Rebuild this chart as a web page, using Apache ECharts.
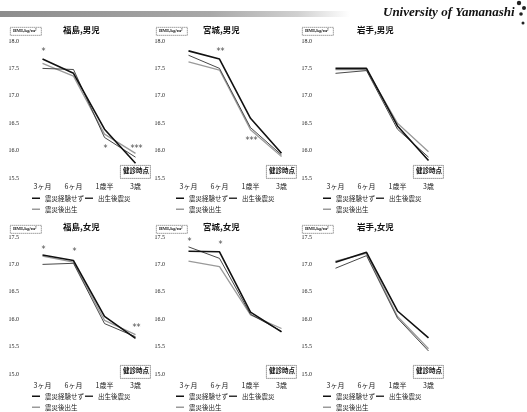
<!DOCTYPE html>
<html><head><meta charset="utf-8">
<script src="https://cdn.jsdelivr.net/npm/echarts@6/dist/echarts.min.js"></script>
<style>html,body{margin:0;padding:0;background:#fff}#c{width:527px;height:412px}</style>
</head><body><div id="c"></div>
<script>
// ---- data ----
const categories = ['3ヶ月', '6ヶ月', '1歳半', '3歳'];
const seriesNames = ['震災経験せず', '出生後震災', '震災後出生'];
const panelTitles = ['福島,男児', '宮城,男児', '岩手,男児', '福島,女児', '宮城,女児', '岩手,女児'];
const boysTicks = [15.5, 18.0];
const girlsTicks = [15.0, 17.5];

const fukushimaBoysNoQuake     = [17.67, 17.41, 16.39, 15.77];
const fukushimaBoysAfterBirth  = [17.50, 17.48, 16.24, 15.88];
const fukushimaBoysBornAfter   = [17.59, 17.36, 16.30, 15.95];

const miyagiBoysNoQuake        = [17.82, 17.67, 16.59, 15.95];
const miyagiBoysAfterBirth     = [17.74, 17.50, 16.42, 15.92];
const miyagiBoysBornAfter      = [17.62, 17.47, 16.38, 15.89];

const iwateBoysNoQuake         = [17.50, 17.50, 16.45, 15.82];
const iwateBoysAfterBirth      = [17.41, 17.46, 16.39, 15.88];
const iwateBoysBornAfter       = [17.48, 17.48, 16.50, 15.98];

const fukushimaGirlsNoQuake    = [17.17, 17.07, 16.05, 15.65];
const fukushimaGirlsAfterBirth = [17.00, 17.02, 15.92, 15.68];
const fukushimaGirlsBornAfter  = [17.15, 17.04, 15.98, 15.72];

const miyagiGirlsNoQuake       = [17.24, 17.23, 16.13, 15.77];
const miyagiGirlsAfterBirth    = [17.32, 17.11, 16.09, 15.78];
const miyagiGirlsBornAfter     = [17.06, 16.96, 16.08, 15.83];

const iwateGirlsNoQuake        = [17.04, 17.22, 16.15, 15.66];
const iwateGirlsAfterBirth     = [16.93, 17.16, 16.02, 15.42];
const iwateGirlsBornAfter      = [17.06, 17.20, 16.05, 15.46];

// significance marks: [category, value, text]
const fukushimaBoysSig  = [['3ヶ月', 17.84, '*'], ['1歳半', 16.07, '*'], ['3歳', 16.07, '***']];
const miyagiBoysSig     = [['6ヶ月', 17.84, '**'], ['1歳半', 16.21, '***']];
const iwateBoysSig      = [];
const fukushimaGirlsSig = [['3ヶ月', 17.30, '*'], ['6ヶ月', 17.26, '*'], ['3歳', 15.88, '**']];
const miyagiGirlsSig    = [['3ヶ月', 17.45, '*'], ['6ヶ月', 17.39, '*']];
const iwateGirlsSig     = [];

const panels = [
  [fukushimaBoysNoQuake, fukushimaBoysAfterBirth, fukushimaBoysBornAfter, fukushimaBoysSig],
  [miyagiBoysNoQuake, miyagiBoysAfterBirth, miyagiBoysBornAfter, miyagiBoysSig],
  [iwateBoysNoQuake, iwateBoysAfterBirth, iwateBoysBornAfter, iwateBoysSig],
  [fukushimaGirlsNoQuake, fukushimaGirlsAfterBirth, fukushimaGirlsBornAfter, fukushimaGirlsSig],
  [miyagiGirlsNoQuake, miyagiGirlsAfterBirth, miyagiGirlsBornAfter, miyagiGirlsSig],
  [iwateGirlsNoQuake, iwateGirlsAfterBirth, iwateGirlsBornAfter, iwateGirlsSig]
];

// ---- layout / style ----
const CJK = '"Noto Sans CJK JP", sans-serif';
const NUM = '"Liberation Serif", serif';
const colLeft = [27, 173, 320];
const boxLeft = [10, 156, 302];
const titleLeft = [63, 203, 357];
const kenLeft = [120, 266, 413];
const legLeft = [32, 176, 323];
const rowTop = [41, 237];
const rowBoxTop = [27, 225];
const rowTitleY = [31, 228];
const rowKenTop = [165, 365];
const rowLegTop = [195, 393];
const rowXMargin = [5, 8];
const lineStyles = [
  {color: '#111', width: 1.6},
  {color: '#333', width: 0.9},
  {color: '#9a9a9a', width: 1.3}
];

const grids = [], xAxes = [], yAxes = [], series = [], legends = [], graphics = [];

panels.forEach((p, i) => {
  const r = Math.floor(i / 3), c = i % 3;
  const ticks = r === 0 ? boysTicks : girlsTicks;
  grids.push({left: colLeft[c], top: rowTop[r], width: 124, height: 137});
  xAxes.push({
    type: 'category', gridIndex: i, data: categories,
    axisLine: {show: false}, axisTick: {show: false},
    axisLabel: {fontSize: 7, color: '#222', margin: rowXMargin[r], fontFamily: CJK, interval: 0}
  });
  yAxes.push({
    type: 'value', gridIndex: i, min: ticks[0], max: ticks[1], interval: 0.5,
    axisLine: {show: false}, axisTick: {show: false}, splitLine: {show: false},
    axisLabel: {fontSize: 6, color: '#222', margin: 8, fontFamily: NUM, formatter: v => v.toFixed(1)}
  });
  for (let s = 0; s < 3; s++) {
    series.push({
      type: 'line', name: seriesNames[s], xAxisIndex: i, yAxisIndex: i,
      data: p[s], symbol: 'none', showSymbol: false, silent: true,
      lineStyle: lineStyles[s], itemStyle: {color: lineStyles[s].color},
      z: 3 - s, animation: false
    });
  }
  series.push({
    type: 'scatter', xAxisIndex: i, yAxisIndex: i, data: p[3],
    symbolSize: 0, silent: true, animation: false,
    label: {show: true, position: 'inside', formatter: d => d.value[2],
            fontSize: 8, color: '#111', fontFamily: '"DejaVu Sans", sans-serif', offset: [1, 2]}
  });
  // legends
  const lc = {icon: 'rect', itemWidth: 8, itemHeight: 1.5, itemGap: 1, orient: 'horizontal',
              textStyle: {fontSize: 6.5, color: '#222', fontFamily: CJK},
              selectedMode: false, padding: 0};
  legends.push(Object.assign({}, lc, {left: legLeft[c], top: rowLegTop[r], data: [seriesNames[0], seriesNames[1]]}));
  legends.push(Object.assign({}, lc, {left: legLeft[c], top: rowLegTop[r] + 11, data: [seriesNames[2]]}));
  // BMI box
  graphics.push({type: 'rect', left: boxLeft[c], top: rowBoxTop[r],
    shape: {width: 31, height: 8}, style: {fill: '#fff', stroke: '#333', lineWidth: 0.7, lineDash: [1, 1]}});
  graphics.push({type: 'text', left: boxLeft[c] + 3, top: rowBoxTop[r] + 1.5,
    style: {text: 'BMI,kg/m²', font: 'bold 5px ' + NUM, fill: '#222'}});
  // title
  graphics.push({type: 'text', left: titleLeft[c], top: rowTitleY[r] - 5,
    style: {text: panelTitles[i], font: 'bold 8.5px ' + CJK, fill: '#111'}});
  // 健診時点 box
  graphics.push({type: 'rect', left: kenLeft[c], top: rowKenTop[r],
    shape: {width: 30, height: 13}, style: {fill: '#fff', stroke: '#333', lineWidth: 0.8, lineDash: [1, 1]}});
  graphics.push({type: 'text', left: kenLeft[c] + 3, top: rowKenTop[r] + 2.5,
    style: {text: '健診時点', font: 'bold 6.5px ' + CJK, fill: '#111'}});
});

// header band and institution name
graphics.push({type: 'rect', left: 0, top: 11, shape: {width: 350, height: 6},
  style: {fill: new echarts.graphic.LinearGradient(0, 0, 1, 0, [
    {offset: 0, color: '#8c8c8c'}, {offset: 0.6, color: '#a8a8a8'}, {offset: 0.85, color: '#d0d0d0'}, {offset: 1, color: '#ffffff'}])}});
graphics.push({type: 'text', left: 383, top: 6,
  style: {text: 'University of Yamanashi', font: 'italic bold 13px "Liberation Serif", serif', fill: '#111'}});
graphics.push({type: 'circle', shape: {cx: 519, cy: 3, r: 2.2}, style: {fill: '#222'}});
graphics.push({type: 'circle', shape: {cx: 524, cy: 8, r: 2}, style: {fill: '#222'}});
graphics.push({type: 'circle', shape: {cx: 521, cy: 14, r: 1.8}, style: {fill: '#222'}});
graphics.push({type: 'circle', shape: {cx: 523, cy: 23, r: 1.5}, style: {fill: '#222'}});

const chart = echarts.init(document.getElementById('c'), null, {renderer: 'canvas'});
chart.setOption({
  animation: false,
  backgroundColor: '#fff',
  grid: grids, xAxis: xAxes, yAxis: yAxes, series: series,
  legend: legends, graphic: graphics
});
</script></body></html>
